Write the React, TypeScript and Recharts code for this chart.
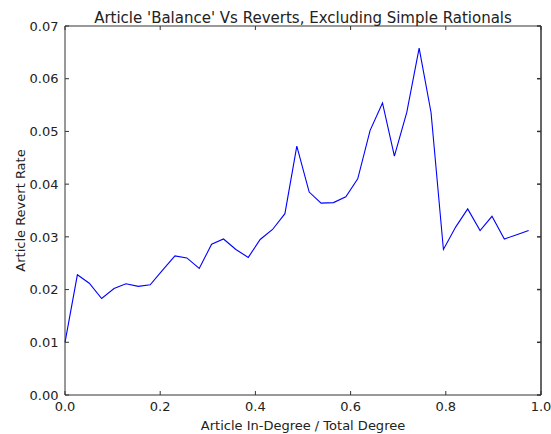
import { LineChart, Line, XAxis, YAxis } from 'recharts';

// Article in-degree / total degree (bin positions)
const balance = [
  0, 0.026, 0.051, 0.077, 0.103, 0.128, 0.154, 0.179, 0.205, 0.231,
  0.256, 0.282, 0.308, 0.333, 0.359, 0.385, 0.41, 0.436, 0.462, 0.487,
  0.513, 0.538, 0.564, 0.59, 0.615, 0.641, 0.667, 0.692, 0.718, 0.744,
  0.769, 0.795, 0.821, 0.846, 0.872, 0.897, 0.923, 0.949, 0.974,
];

// Article revert rate per bin
const revertRate = [
  0.01, 0.0228, 0.0212, 0.0183, 0.0202, 0.0211, 0.0206, 0.0209, 0.0237, 0.0264,
  0.026, 0.024, 0.0286, 0.0296, 0.0276, 0.0261, 0.0295, 0.0314, 0.0344, 0.0472,
  0.0385, 0.0364, 0.0365, 0.0376, 0.041, 0.0502, 0.0554, 0.0453, 0.0536, 0.0658,
  0.0536, 0.0276, 0.0319, 0.0353, 0.0312, 0.0339, 0.0296, 0.0304, 0.0312,
];

const xTicks = [0, 0.2, 0.4, 0.6, 0.8, 1.0];
const yTicks = [0, 0.01, 0.02, 0.03, 0.04, 0.05, 0.06, 0.07];

const data = balance.map((x, i) => ({ x, rate: revertRate[i] }));

const W = 551;
const H = 434;
const MARGIN_TOP = 25;
const MARGIN_RIGHT = 10;
const Y_AXIS_W = 65;
const X_AXIS_H = 39;
const PLOT_W = W - Y_AXIS_W - MARGIN_RIGHT;
const PLOT_H = H - MARGIN_TOP - 1 - X_AXIS_H;

const FONT = '"DejaVu Sans", sans-serif';
const AXIS = '#333';
const TEXT = '#222';
const TICK_LEN = 4;
const EDGE_W = 1.5;

// matplotlib-style ticks: short marks pointing into the plot
const BottomTick = ({ x, y, payload }: any) => (
  <g>
    <line x1={x} x2={x} y1={y} y2={y - TICK_LEN} stroke={AXIS} />
    <text x={x} y={y + 15.5} textAnchor="middle" fontSize={13} fontFamily={FONT} fill={TEXT}>
      {Number(payload.value).toFixed(1)}
    </text>
  </g>
);

// left tick + label, plus the mirrored tick on the right frame edge
const LeftTick = ({ x, y, payload }: any) => (
  <g>
    <line x1={x} x2={x + TICK_LEN} y1={y} y2={y} stroke={AXIS} />
    <line x1={x + PLOT_W} x2={x + PLOT_W - TICK_LEN} y1={y} y2={y} stroke={AXIS} strokeWidth={EDGE_W} />
    <text x={x - 6.5} y={y + 4.7} textAnchor="end" fontSize={13} fontFamily={FONT} fill={TEXT}>
      {Number(payload.value).toFixed(2)}
    </text>
  </g>
);

// top tick; the last one also draws the right edge of the frame
const TopTick = ({ x, y, payload }: any) => (
  <g>
    <line x1={x} x2={x} y1={y} y2={y + TICK_LEN} stroke={AXIS} />
    {payload.value === 1 && (
      <line x1={x} x2={x} y1={y} y2={y + PLOT_H} stroke={AXIS} strokeWidth={EDGE_W} />
    )}
  </g>
);

export default function App() {
  return (
    <div style={{ position: 'absolute', left: 0, top: 0, background: '#fff' }}>
      <LineChart
        width={W}
        height={H}
        data={data}
        margin={{ top: MARGIN_TOP, right: MARGIN_RIGHT, bottom: 0, left: 0 }}
      >
        <XAxis
          xAxisId="bottom"
          dataKey="x"
          type="number"
          domain={[0, 1]}
          ticks={xTicks}
          interval={0}
          height={X_AXIS_H}
          tick={<BottomTick />}
          tickLine={false}
          tickSize={0}
          tickMargin={0}
          stroke={AXIS}
          label={{
            content: (p: any) => (
              <text
                x={p.viewBox.x + p.viewBox.width / 2}
                y={429.5}
                textAnchor="middle"
                fontSize={13}
                fontFamily={FONT}
                fill={TEXT}
              >
                Article In-Degree / Total Degree
              </text>
            ),
          }}
        />
        <XAxis
          xAxisId="top"
          orientation="top"
          dataKey="x"
          type="number"
          domain={[0, 1]}
          ticks={xTicks}
          interval={0}
          height={1}
          tick={<TopTick />}
          tickLine={false}
          tickSize={0}
          tickMargin={0}
          stroke={AXIS}
          label={{
            content: (p: any) => (
              <text
                x={p.viewBox.x + p.viewBox.width / 2}
                y={22.5}
                textAnchor="middle"
                fontSize={15}
                fontFamily={FONT}
                fill={TEXT}
              >
                Article 'Balance' Vs Reverts, Excluding Simple Rationals
              </text>
            ),
          }}
        />
        <YAxis
          yAxisId="left"
          type="number"
          domain={[0, 0.07]}
          ticks={yTicks}
          interval={0}
          width={Y_AXIS_W}
          tick={<LeftTick />}
          tickLine={false}
          tickSize={0}
          tickMargin={0}
          stroke={AXIS}
          label={{
            content: (p: any) => {
              const cx = p.viewBox.x + 20;
              const cy = p.viewBox.y + p.viewBox.height / 2;
              return (
                <text
                  x={cx}
                  y={cy}
                  transform={`rotate(-90 ${cx} ${cy})`}
                  textAnchor="middle"
                  dominantBaseline="central"
                  fontSize={13}
                  fontFamily={FONT}
                  fill={TEXT}
                >
                  Article Revert Rate
                </text>
              );
            },
          }}
        />
        {/* invisible twin so the top frame axis gets a proper scale */}
        <Line
          xAxisId="top"
          yAxisId="left"
          dataKey="rate"
          type="linear"
          stroke="none"
          dot={false}
          activeDot={false}
          isAnimationActive={false}
        />
        <Line
          xAxisId="bottom"
          yAxisId="left"
          dataKey="rate"
          type="linear"
          stroke="#0000ff"
          strokeWidth={1.1}
          dot={false}
          isAnimationActive={false}
        />
      </LineChart>
    </div>
  );
}
